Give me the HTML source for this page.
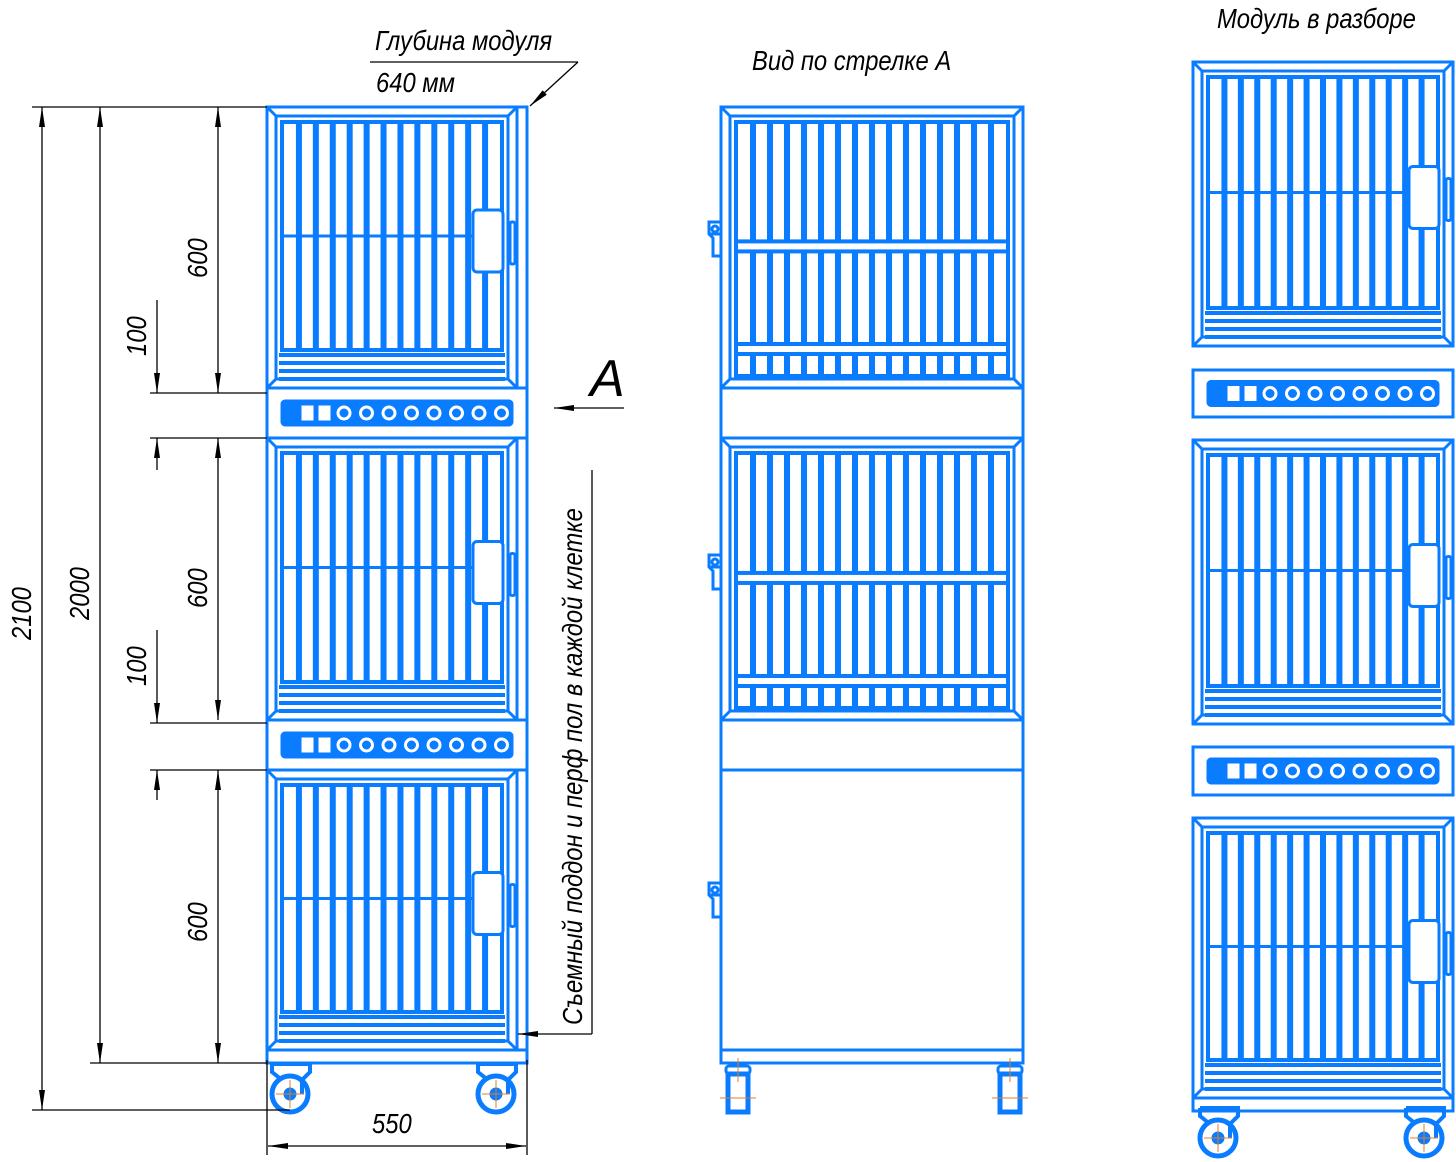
<!DOCTYPE html>
<html><head><meta charset="utf-8">
<style>
html,body{margin:0;padding:0;background:#fff;}
svg{display:block;}
text{font-family:"Liberation Sans",sans-serif;font-style:italic;fill:#000;}
</style></head>
<body>
<svg id="s" width="1456" height="1162" viewBox="0 0 1456 1162" xmlns="http://www.w3.org/2000/svg">
<defs>
<marker id="ar" viewBox="0 0 20 8" refX="20" refY="4" markerWidth="20" markerHeight="8" markerUnits="userSpaceOnUse" orient="auto-start-reverse"><path d="M0,1 L20,4 L0,7 Z" fill="#000"/></marker>
</defs>
<g id="blue" fill="none" stroke="#0a7cff" stroke-width="3"></g>
<g id="dim" fill="none" stroke="#000" stroke-width="1.3"></g>
<g font-size="28">
<text x="375" y="50" transform="translate(375 50) scale(0.85 1) translate(-375 -50)">Глубина модуля</text>
<text x="376" y="92" transform="translate(376 92) scale(0.85 1) translate(-376 -92)">640 мм</text>
<text x="752" y="70" transform="translate(752 70) scale(0.85 1) translate(-752 -70)">Вид по стрелке А</text>
<text x="1217" y="28" transform="translate(1217 28) scale(0.85 1) translate(-1217 -28)">Модуль в разборе</text>
<text x="372" y="1133" transform="translate(372 1133) scale(0.85 1) translate(-372 -1133)">550</text>
<text x="590" y="396" font-size="52" font-style="normal">А</text>
<text transform="translate(207 278) rotate(-90) scale(0.85 1)">600</text>
<text transform="translate(207 608) rotate(-90) scale(0.85 1)">600</text>
<text transform="translate(207 942) rotate(-90) scale(0.85 1)">600</text>
<text transform="translate(146 356) rotate(-90) scale(0.85 1)">100</text>
<text transform="translate(146 686) rotate(-90) scale(0.85 1)">100</text>
<text transform="translate(89 620) rotate(-90) scale(0.85 1)">2000</text>
<text transform="translate(31 640) rotate(-90) scale(0.85 1)">2100</text>
<text transform="translate(582 1025) rotate(-90) scale(0.85 1)">Съемный поддон и перф пол в каждой клетке</text>
</g>
</svg>
<script>
var B=document.getElementById('blue'),D=document.getElementById('dim'),NS='http://www.w3.org/2000/svg';
function el(p,t,a){var e=document.createElementNS(NS,t);for(var k in a)e.setAttribute(k,a[k]);p.appendChild(e);return e;}
function R(x,y,w,h,a){a=a||{};a.x=x;a.y=y;a.width=w;a.height=h;return el(B,'rect',a);}
function L(x1,y1,x2,y2,p,a){a=a||{};a.x1=x1;a.y1=y1;a.x2=x2;a.y2=y2;return el(p||B,'line',a);}
function C(cx,cy,r,a){a=a||{};a.cx=cx;a.cy=cy;a.r=r;return el(B,'circle',a);}
function cage(x,y,w,h,front){
  R(x,y,w,h);R(x+9,y+9,w-18,h-18);
  L(x,y,x+9,y+9);L(x+w,y,x+w-9,y+9);L(x,y+h,x+9,y+h-9);L(x+w,y+h,x+w-9,y+h-9);
  var gx=x+15,gy=y+15,gw=w-30,gb=y+h-38,gh=gb-gy;
  var n=Math.round(gw/17);var sp=gw/n;
  if(front){
    R(gx,gy,gw,gh,{"stroke-width":4});
    for(var i=1;i<n;i++){R(gx+i*sp-3,gy,6,gh,{fill:'#0a7cff',stroke:'none'});}
    var my=gy+gh*0.5;
    L(gx,my,gx+gw-30,my);
    R(x+w-44,my-26,30,62,{rx:4,fill:'#fff'});
    R(x+w-7,my-14,5,42,{rx:2});
    [5,13,21,29].forEach(function(d){L(x+12,gb+d,x+w-12,gb+d,B,{"stroke-width":4});});
  } else {
    var bb=y+h-12;
    R(gx,gy,gw,bb-gy,{"stroke-width":4});
    for(var i=1;i<n;i++){R(gx+i*sp-3,gy,6,bb-gy,{fill:'#0a7cff',stroke:'none'});}
    var my=gy+gh*0.55;
    R(gx,my-6,gw,10,{fill:'#fff',"stroke-width":4});
    R(gx,gb-6,gw,10,{fill:'#fff',"stroke-width":4});
  }
}
function strip(x,y,w,h){
  R(x,y,w,h);
  var sx=x+15,sw=w-30,sy=y+h/2-12;
  R(sx,sy,sw,24,{rx:3,fill:'#0a7cff'});
  R(sx+18,sy+3,15,18,{fill:'#fff'});R(sx+35,sy+3,15,18,{fill:'#fff'});
  for(var i=0;i<8;i++){C(sx+62+i*22.5,sy+12,9,{fill:'#fff'});C(sx+62+i*22.5,sy+12,3,{fill:'#0a7cff'});}
}
function caster(cx,cy){
  el(B,'path',{d:'M'+(cx-18)+','+(cy-30)+' h38 v8 l-8,8 v14',"stroke-width":4});
  el(B,'path',{d:'M'+(cx-18)+','+(cy-30)+' v8 l10,8',"stroke-width":4});
  C(cx,cy,18,{"stroke-width":5});C(cx,cy,5,{fill:'#0a7cff'});
  L(cx-14,cy,cx+14,cy,B,{stroke:'#e08020',"stroke-width":1});L(cx,cy-14,cx,cy+14,B,{stroke:'#e08020',"stroke-width":1});
}
function sideCaster(cx){
  R(cx-12,1066,24,8,{rx:3});R(cx-10,1074,20,38,{"stroke-width":5});
  L(cx-18,1098,cx+18,1098,B,{stroke:'#e08020',"stroke-width":1});L(cx,1058,cx,1082,B,{stroke:'#e08020',"stroke-width":1});
}
function hinge(x,y){
  el(B,'path',{d:'M'+x+','+y+' h-12 v12 l4,4 v18 h8 M'+(x-12)+','+(y+12)+' h12'});
  C(x-6,y+7,3);
}
cage(267,107,250,281,true);strip(267,388,260,50);
cage(267,438,250,282,true);strip(267,720,260,50);
cage(267,770,250,280,true);
R(517,107,10,281);R(517,438,10,282);R(517,770,10,280);
R(267,1050,260,13);
caster(290,1094);caster(496,1094);
cage(721,107,302,281,false);R(721,388,302,50);
cage(721,438,302,282,false);R(721,720,302,50);
R(721,770,302,280);R(721,1050,302,13);
sideCaster(738);sideCaster(1010);
hinge(721,222);hinge(721,555);hinge(721,883);
cage(1193,62,260,284,true);strip(1193,370,260,47);
cage(1193,440,260,284,true);strip(1193,747,260,48);
cage(1193,818,260,280,true);R(1193,1098,260,13);
caster(1218,1138);caster(1424,1138);
var mk={"marker-end":"url(#ar)","marker-start":"url(#ar)"};
L(42,107,42,1110,D,mk);L(100,107,100,1063,D,mk);
L(218,107,218,393,D,mk);L(218,438,218,720,D,mk);L(218,770,218,1063,D,mk);
L(157,300,157,393,D,{"marker-end":"url(#ar)"});L(157,470,157,438,D,{"marker-end":"url(#ar)"});
L(157,630,157,723,D,{"marker-end":"url(#ar)"});L(157,800,157,770,D,{"marker-end":"url(#ar)"});
L(32,107,267,107,D);L(150,393,267,393,D);L(150,438,267,438,D);L(150,723,267,723,D);L(150,770,267,770,D);
L(90,1063,267,1063,D);L(32,1110,290,1110,D);
L(267,1060,267,1155,D);L(527,1060,527,1155,D);L(268,1146,526,1146,D,mk);
L(370,62,578,62,D);L(578,62,530,106,D,{"marker-end":"url(#ar)"});
L(624,408,554,408,D,{"marker-end":"url(#ar)"});
L(592,470,592,1034,D);L(592,1034,518,1034,D,{"marker-end":"url(#ar)"});
</script>
</body></html>
